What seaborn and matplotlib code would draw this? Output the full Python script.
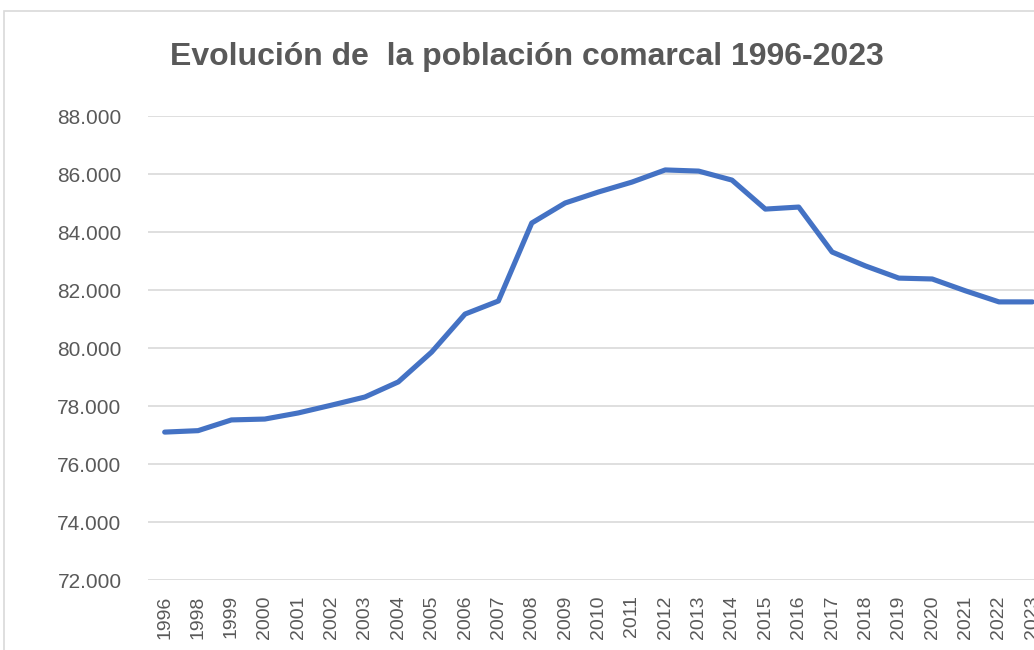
import numpy as np
import pandas as pd
import matplotlib
matplotlib.use('Agg')
import matplotlib.pyplot as plt
import seaborn as sns
from matplotlib.patches import Rectangle
from matplotlib.ticker import FuncFormatter

# years shown on the category axis (1997 is not in the source table)
anios = ['1996', '1998', '1999', '2000', '2001', '2002', '2003', '2004', '2005',
         '2006', '2007', '2008', '2009', '2010', '2011', '2012', '2013', '2014',
         '2015', '2016', '2017', '2018', '2019', '2020', '2021', '2022', '2023']

# population
poblacion = [77100, 77150, 77520, 77550, 77760, 78030, 78310, 78830, 79860,
             81170, 81620, 84310, 85000, 85380, 85720, 86140, 86100, 85790,
             84790, 84860, 83310, 82830, 82410, 82380, 81970, 81590, 81590]

y_ticks = [72000, 74000, 76000, 78000, 80000, 82000, 84000, 86000, 88000]

titulo = 'Evolución de  la población comarcal 1996-2023'

df = pd.DataFrame({'anio': anios, 'poblacion': poblacion})

sns.set_theme(style='white')
plt.rcParams['font.family'] = ['Liberation Sans', 'DejaVu Sans']

gris = '#595959'

fig = plt.figure(figsize=(10.34, 6.5), dpi=100)
ax = fig.add_axes([148 / 1034, 70 / 650, 901 / 1034, 464 / 650])

sns.lineplot(data=df, x='anio', y='poblacion', ax=ax, color='#4472C4',
             linewidth=3.7, solid_joinstyle='round', solid_capstyle='round')

ax.set_xlim(-0.5, len(anios) - 0.5)
ax.set_ylim(y_ticks[0], y_ticks[-1])
ax.set_yticks(y_ticks)
ax.yaxis.set_major_formatter(FuncFormatter(lambda v, p: f'{int(v):,}'.replace(',', '.')))
ax.set_xticks(range(len(anios)))
ax.set_xticklabels(anios, rotation=90)

ax.grid(axis='y', color='#D9D9D9', linewidth=1.2)
ax.grid(axis='x', visible=False)
ax.set_axisbelow(True)
for s in ax.spines.values():
    s.set_visible(False)
ax.tick_params(axis='y', length=0, pad=19, labelsize=15, labelcolor=gris)
ax.tick_params(axis='x', length=0, pad=11, labelsize=14, labelcolor=gris)
ax.set_xlabel('')
ax.set_ylabel('')

fig.text(527 / 1034, 1 - 57 / 650, titulo, ha='center', va='center',
         fontsize=23, fontweight='bold', color=gris)

# chart area border, cut at the right and bottom like the screenshot
fig.patches.append(Rectangle((4 / 1034, -0.1), 1.1, 1.1 - 11 / 650,
                             transform=fig.transFigure, fill=False,
                             edgecolor='#D9D9D9', linewidth=1.2))

fig.savefig('out.png', dpi=100)
